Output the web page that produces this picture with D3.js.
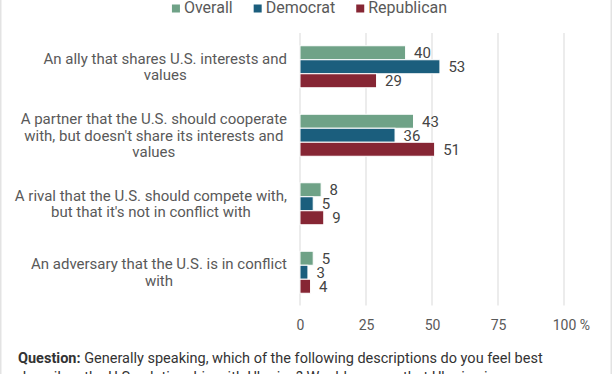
<!DOCTYPE html>
<html><head><meta charset="utf-8">
<script src="https://cdn.jsdelivr.net/npm/d3@7"></script>
<style>
html,body{margin:0;padding:0;background:#fff;}
svg{display:block;font-family:Roboto, "Noto Sans", sans-serif;}
</style></head><body>
<svg id="chart" width="612" height="374"></svg>
<script>
const categories = [
  "An ally that shares U.S. interests and\nvalues",
  "A partner that the U.S. should cooperate\nwith, but doesn't share its interests and\nvalues",
  "A rival that the U.S. should compete with,\nbut that it's not in conflict with",
  "An adversary that the U.S. is in conflict\nwith"
];
const seriesNames = ["Overall", "Democrat", "Republican"];
const overall = [40, 43, 8, 5];
const democrat = [53, 36, 5, 3];
const republican = [29, 51, 9, 4];
const tickValues = [0, 25, 50, 75, 100];
const colors = ["#6fa287", "#1b5e7d", "#862634"];
const questionLabel = "Question:";
const questionLines = [
  " Generally speaking, which of the following descriptions do you feel best",
  "describes the U.S. relationship with Ukraine? Would you say that Ukraine is"
];

const seriesValues = [overall, democrat, republican];
const W = 612, H = 374;
const svg = d3.select("#chart");

// frame borders
svg.append("rect").attr("x", 0).attr("y", 0).attr("width", 1.5).attr("height", H).attr("fill", "#e3e3e3");
svg.append("rect").attr("x", W - 1.5).attr("y", 0).attr("width", 1.5).attr("height", H).attr("fill", "#e3e3e3");

const x = d3.scaleLinear().domain([0, 100]).range([300, 564]);
const y0 = d3.scaleBand().domain(categories).range([32.5, 306.5]);
const barBlock = 42;
const y1 = d3.scaleBand().domain(seriesNames)
  .range([(y0.bandwidth() - barBlock) / 2, (y0.bandwidth() + barBlock) / 2]);

// gridlines
svg.append("g").selectAll("line").data(tickValues).join("line")
  .attr("x1", d => x(d)).attr("x2", d => x(d))
  .attr("y1", 33).attr("y2", 305.5)
  .attr("stroke", "#e6e6e6").attr("stroke-width", 1.5);

// bars
const groups = svg.append("g").selectAll("g").data(categories).join("g")
  .attr("transform", d => `translate(0,${y0(d)})`);

groups.each(function (cat, ci) {
  const g = d3.select(this);
  const rows = seriesNames.map((s, si) => ({ s, si, v: seriesValues[si][ci] }));
  g.selectAll("rect").data(rows).join("rect")
    .attr("x", x(0))
    .attr("y", d => y1(d.s))
    .attr("width", d => x(d.v) - x(0))
    .attr("height", y1.bandwidth())
    .attr("fill", d => colors[d.si])
    .attr("stroke", "#fff").attr("stroke-width", 1);
  g.selectAll("text.val").data(rows).join("text")
    .attr("class", "val")
    .attr("x", d => x(d.v) + 8.5)
    .attr("y", d => y1(d.s) + y1.bandwidth() / 2)
    .attr("dy", "0.35em")
    .attr("font-size", 15).attr("fill", "#444")
    .text(d => d.v);
});

// category labels
const labelRight = 287, lineH = 16.5;
categories.forEach(cat => {
  const lines = cat.split("\n");
  const t = svg.append("text").attr("font-size", 15).attr("fill", "#595959").attr("text-anchor", "middle");
  const cy = y0(cat) + y0.bandwidth() / 2;
  const spans = lines.map((ln, i) => t.append("tspan")
    .attr("y", cy - (lines.length - 1) * lineH / 2 + i * lineH)
    .attr("dy", "0.35em").text(ln));
  const maxW = d3.max(spans, s => s.node().getComputedTextLength());
  spans.forEach(s => s.attr("x", labelRight - maxW / 2));
});

// x axis
const axis = d3.axisBottom(x).tickValues(tickValues).tickSize(0).tickPadding(14);
const ag = svg.append("g").attr("transform", "translate(0,306)").call(axis);
ag.select(".domain").remove();
ag.selectAll("text").attr("font-size", 14).attr("fill", "#595959").attr("font-family", "Roboto, 'Noto Sans', sans-serif");
const last = ag.selectAll(".tick text").filter(d => d === 100);
const w100 = last.node().getComputedTextLength();
last.attr("text-anchor", "start").attr("x", -w100 / 2).text("100 %");

// legend
const leg = svg.append("g");
let lx = 0;
const items = [];
seriesNames.forEach((s, i) => {
  const it = leg.append("g").attr("transform", `translate(${lx},0)`);
  it.append("rect").attr("x", 0).attr("y", 4.5).attr("width", 8).attr("height", 8).attr("fill", colors[i]);
  const tx = it.append("text").attr("x", 12).attr("y", 13.3).attr("font-size", 16).attr("fill", "#595959").text(s);
  const tw = tx.node().getComputedTextLength();
  lx += 12 + tw + 21;
});
const legW = lx - 21;
leg.attr("transform", `translate(${309.5 - legW / 2},0)`);

// question text
const q = svg.append("text").attr("x", 18).attr("y", 363.3).attr("font-size", 14.5).attr("fill", "#333");
q.append("tspan").attr("font-weight", "bold").text(questionLabel);
q.append("tspan").text(questionLines[0]);
svg.append("text").attr("x", 18).attr("y", 382).attr("font-size", 14.5).attr("fill", "#333").text(questionLines[1]);
</script>
</body></html>
